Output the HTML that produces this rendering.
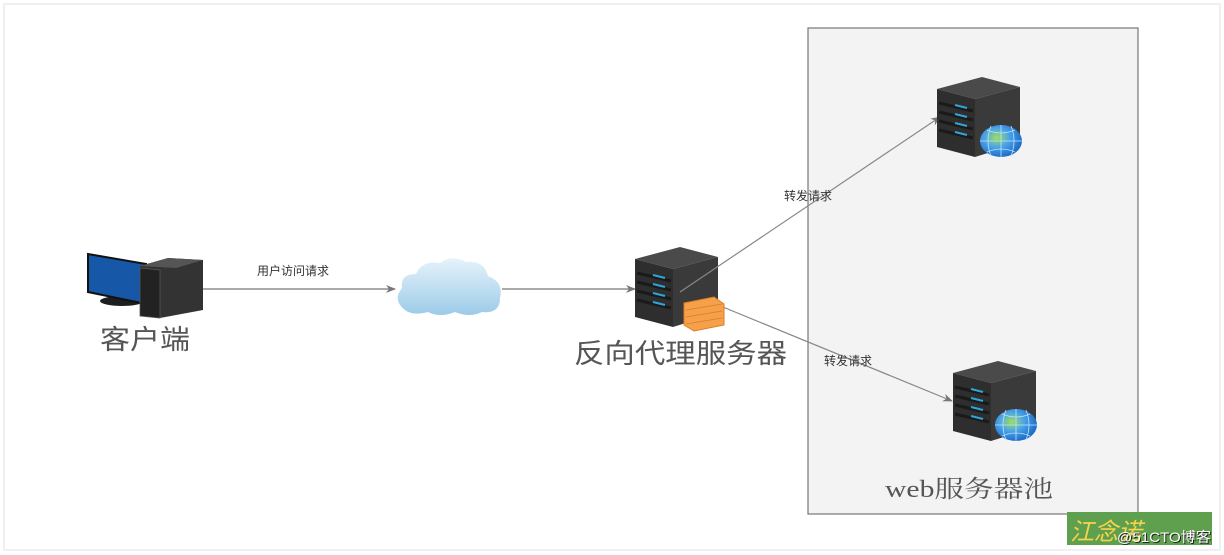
<!DOCTYPE html>
<html><head><meta charset="utf-8"><style>
html,body{margin:0;padding:0;background:#fff;}
svg{display:block;}
text{font-family:"Liberation Sans","Noto Sans CJK SC",sans-serif;}
</style></head><body>
<svg width="1224" height="555" viewBox="0 0 1224 555" xmlns="http://www.w3.org/2000/svg">
<defs>
<marker id="ar" markerWidth="10" markerHeight="8" refX="9" refY="4" orient="auto" markerUnits="userSpaceOnUse">
<path d="M0,0 L10,4 L0,8 L3,4 Z" fill="#777"/></marker>
<linearGradient id="cl" x1="0" y1="0" x2="0" y2="1"><stop offset="0" stop-color="#e6f3fb"/><stop offset="1" stop-color="#9ccbe8"/></linearGradient>
<radialGradient id="gl" cx="0.4" cy="0.4" r="0.6"><stop offset="0" stop-color="#9fe05a"/><stop offset="0.5" stop-color="#4aa3e8"/><stop offset="1" stop-color="#1e6fc8"/></radialGradient>
<g id="srv">
<polygon points="0,12 45,0 83,10 38,22" fill="#4a4a4a"/>
<polygon points="0,12 38,22 38,80 0,70" fill="#2e2e2e"/>
<polygon points="38,22 83,10 83,66 38,80" fill="#3a3a3a"/>
<g stroke="#1a1a1a" stroke-width="3">
<line x1="2" y1="26" x2="36" y2="34"/><line x1="2" y1="35" x2="36" y2="43"/><line x1="2" y1="44" x2="36" y2="52"/><line x1="2" y1="53" x2="36" y2="61"/></g>
<g stroke="#2fa6d8" stroke-width="2">
<line x1="18" y1="28" x2="30" y2="31"/><line x1="18" y1="37" x2="30" y2="40"/><line x1="18" y1="46" x2="30" y2="49"/><line x1="18" y1="55" x2="30" y2="58"/></g>
</g>
<g id="globe"><ellipse cx="0" cy="0" rx="21" ry="16" fill="url(#gl)"/>
<path d="M-21,0 H21 M0,-16 V16 M-14,-11 Q0,-5 14,-11 M-14,11 Q0,5 14,11 M-10,-15 Q-16,0 -10,15 M10,-15 Q16,0 10,15" stroke="#bfe3ff" stroke-width="0.8" fill="none"/></g>
</defs>
<rect x="4" y="4" width="1216" height="546" fill="none" stroke="#f0f0f0" stroke-width="2"/>
<rect x="808" y="28" width="330" height="486" fill="#f3f3f3" stroke="#777" stroke-width="1.2"/>
<!-- client -->
<ellipse cx="122" cy="301" rx="22" ry="5" fill="#1e1e1e"/>
<rect x="118" y="292" width="8" height="8" fill="#222"/>
<polygon points="88,254 146,264 146,304 88,292" fill="#1657a8" stroke="#111" stroke-width="2"/>
<polygon points="140,266 168,258 203,260 203,310 160,318 140,316" fill="#333"/>
<polygon points="140,266 168,258 203,260 176,268" fill="#555"/>
<polygon points="140,268 160,270 160,318 140,316" fill="#222" stroke="#555" stroke-width="0.8"/>
<text x="100" y="349" font-size="27" fill="#555" textLength="90" lengthAdjust="spacingAndGlyphs">客户端</text>
<!-- arrows -->
<line x1="203" y1="289" x2="395" y2="289" stroke="#777" stroke-width="1.2" marker-end="url(#ar)"/>
<text x="257" y="275" font-size="12" fill="#333">用户访问请求</text>
<line x1="502" y1="289" x2="635" y2="289" stroke="#777" stroke-width="1.2" marker-end="url(#ar)"/>
<!-- cloud -->
<path d="M405,310 Q392,300 402,288 Q400,274 416,274 Q422,260 440,263 Q452,254 466,262 Q484,260 488,276 Q504,282 500,298 Q500,314 482,312 Q470,318 455,312 Q440,318 428,312 Q412,316 405,310 Z" fill="url(#cl)"/>
<!-- proxy -->
<use href="#srv" x="635" y="247"/>
<line x1="680" y1="292" x2="940" y2="117" stroke="#888" stroke-width="1.2" marker-end="url(#ar)"/>
<line x1="718" y1="305" x2="952" y2="401" stroke="#888" stroke-width="1.2" marker-end="url(#ar)"/>
<polygon points="684,303 714,297 724,304 724,325 694,331 684,325" fill="#f5a04a" stroke="#e07c20"/>
<g stroke="#e07c20" stroke-width="0.7"><line x1="686" y1="310" x2="722" y2="304"/><line x1="686" y1="317" x2="722" y2="311"/><line x1="686" y1="324" x2="722" y2="318"/></g>
<text x="574" y="363" font-size="27" fill="#555" textLength="213" lengthAdjust="spacingAndGlyphs">反向代理服务器</text>
<text x="784" y="200" font-size="12" fill="#333">转发请求</text>
<text x="824" y="365" font-size="12" fill="#333">转发请求</text>
<!-- web servers -->
<use href="#srv" x="937" y="77"/>
<use href="#globe" x="1001" y="141"/>
<use href="#srv" x="953" y="361"/>
<use href="#globe" x="1016" y="425"/>
<text x="885" y="497" font-size="24" fill="#555" textLength="168" lengthAdjust="spacingAndGlyphs" style="font-family:'Liberation Serif','Noto Serif CJK SC',serif">web服务器池</text>
<!-- watermark -->
<rect x="1067" y="512" width="145" height="33" fill="#5fa04e"/>
<text x="1070" y="540" font-size="24" fill="#f7d24a" font-style="italic">江念诺</text>
<text x="1118" y="543" font-size="14" fill="#222" textLength="94" lengthAdjust="spacingAndGlyphs">@51CTO博客</text>
<text x="1117" y="542" font-size="14" fill="#fff" textLength="94" lengthAdjust="spacingAndGlyphs">@51CTO博客</text>
</svg>
</body></html>
